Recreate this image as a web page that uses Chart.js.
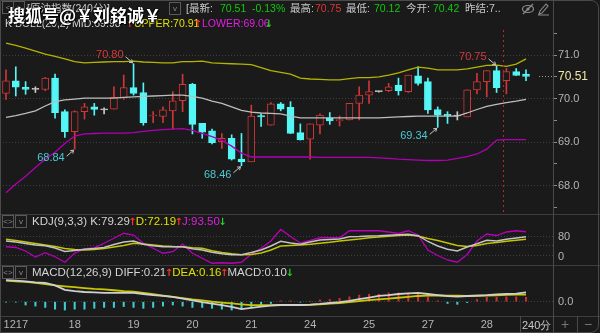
<!DOCTYPE html>
<html>
<head>
<meta charset="utf-8">
<script src="https://cdn.jsdelivr.net/npm/chart.js@4.4.1/dist/chart.umd.min.js"></script>
<style>
  body { margin: 0; background: #1a1a1a; width: 600px; height: 333px; overflow: hidden; position: relative;
         font-family: "Liberation Sans", Arial, sans-serif; }
  canvas { position: absolute; left: 0; }
  .t { position: absolute; white-space: nowrap; font-size: 10.5px; line-height: 14px; color: #d4d4d4; }
  .top { font-family: "Liberation Sans", "Noto Sans CJK SC", sans-serif; font-size: 10.5px; line-height: 14px; top: 1px; }
  .sub { font-size: 11.5px; }
  .g { color: #c8c8c8; } .grn { color: #10c810; } .red { color: #e03434; }
  .yel { color: #e0e000; } .mag { color: #e020e0; } .up { color: #ff3030; } .dn { color: #20d820; }
  .ar { display: inline-block; width: 6px; overflow: visible; font-family: "DejaVu Sans", sans-serif;
        font-size: 10px; text-indent: -1.5px; font-weight: bold; }
  .hl { position: absolute; height: 1px; background: #3e3e3e; left: 0; width: 600px; }
  .vl { position: absolute; width: 1px; background: #4a4a4a; }
  .box { position: absolute; width: 10px; height: 11px; border: 1px solid #5a5a5a; color: #8a8a8a;
         font-size: 8px; line-height: 11px; text-align: center; }
  .wm { position: absolute; left: 8px; top: 5px; font-family: "Noto Sans CJK SC", sans-serif; font-weight: bold;
        font-size: 17px; line-height: 20px; color: #fff; text-shadow: 1px 1px 1px #000, -1px 0 1px #000; white-space: nowrap; }
</style>
</head>
<body>
<canvas id="main" width="600" height="214" style="top:0"></canvas>
<canvas id="kdj" width="600" height="51" style="top:214px"></canvas>
<canvas id="macd" width="600" height="68" style="top:265px"></canvas>

<div class="hl" style="top:214px"></div>
<div class="hl" style="top:265px"></div>
<div class="hl" style="top:316px"></div>
<div class="vl" style="left:553px;top:0;height:333px"></div>
<div class="vl" style="left:520px;top:316px;height:17px"></div>
<div class="vl" style="left:577px;top:316px;height:17px"></div>
<div style="position:absolute;left:0;top:0;width:597px;height:331px;border:1px solid #4a4a4a;border-radius:0 8px 8px 0"></div>

<!-- top bar -->
<div class="box" style="left:2px;top:1px">&lt;</div>
<div class="box" style="left:13px;top:1px">&gt;</div>
<span class="t top g" style="left:27px">[原油指数(240分)]</span>
<div class="box" style="left:169px;top:2px">v</div>
<span class="t top g" style="left:186px">[最新:</span>
<span class="t top grn" style="left:220px">70.51</span>
<span class="t top grn" style="left:252px">-0.13%</span>
<span class="t top g" style="left:290px">最高:</span>
<span class="t top red" style="left:315px">70.75</span>
<span class="t top g" style="left:346px">最低:</span>
<span class="t top grn" style="left:374px">70.12</span>
<span class="t top g" style="left:406px">今开:</span>
<span class="t top grn" style="left:433px">70.42</span>
<span class="t top g" style="left:465px">昨结:7..</span>
<svg style="position:absolute;left:522px;top:2px" width="28" height="14">
  <ellipse cx="6" cy="7" rx="5.5" ry="3.5" fill="none" stroke="#8a8a8a" stroke-width="1.2"/>
  <circle cx="6" cy="7" r="1.6" fill="#8a8a8a"/>
  <line x1="1" y1="12" x2="11" y2="2" stroke="#8a8a8a" stroke-width="1.2"/>
  <path d="M17 12 L18 9 L24 2 L26 4 L20 11 Z M16 13 L27 13" fill="none" stroke="#8a8a8a" stroke-width="1.1"/>
</svg>

<!-- BOLL header -->
<span class="t" style="left:5px;top:16px">K BOLL(20,2) MID:69.98</span>
<span class="t up" style="left:127px;top:16px"><span class="ar">↑</span></span>
<span class="t yel" style="left:134px;top:16px">UPPER:70.91</span>
<span class="t up" style="left:195px;top:16px"><span class="ar">↑</span></span>
<span class="t mag" style="left:202px;top:16px">LOWER:69.06</span>
<span class="t dn" style="left:266px;top:16px"><span class="ar">↓</span></span>

<div class="wm">搜狐号@￥刘铭诚￥</div>

<!-- KDJ header -->
<div class="box" style="left:2px;top:215px">&lt;&gt;</div>
<div class="box" style="left:15px;top:215px">v</div>
<span class="t sub" style="left:32px;top:214px">KDJ(9,3,3) K:79.29<span class="up ar">↑</span><span class="yel">D:72.19</span><span class="up ar">↑</span><span class="mag">J:93.50</span><span class="dn ar">↓</span></span>

<!-- MACD header -->
<div class="box" style="left:2px;top:266px">&lt;&gt;</div>
<div class="box" style="left:15px;top:266px">v</div>
<span class="t sub" style="left:32px;top:265px">MACD(12,26,9) DIFF:0.21<span class="up ar">↑</span><span class="yel">DEA:0.16</span><span class="up ar">↑</span>MACD:0.10<span class="dn ar">↓</span></span>

<!-- bottom buttons -->
<span class="t g" style="left:522px;top:318px;font-size:11px">240分</span>
<span class="t" style="left:561px;top:317px;font-size:14px;color:#777">+</span>
<span class="t" style="left:584px;top:317px;font-size:14px;color:#777">−</span>

<script>
// ---- data (one entry per 240-minute bar) ----
const opens = [70.12, 70.41, 70.26, 70.21, 70.21, 70.47, 69.70, 69.24, 69.70, 69.81,
  69.74, 69.76, 70.02, 70.25, 70.14, 69.60, 69.59, 69.72, 69.95, 70.33,
  69.43, 69.26, 69.01, 69.09, 68.61, 68.55, 69.61, 69.39, 69.88, 69.80,
  69.22, 69.07, 69.39, 69.56, 69.49, 69.51, 69.89, 70.08, 70.16, 70.18,
  70.31, 70.16, 70.52, 70.39, 69.75, 69.64, 69.60, 69.58, 70.20, 70.39,
  70.64, 70.41, 70.62, 70.56];
const highs = [70.66, 70.73, 70.39, 70.27, 70.49, 70.56, 69.74, 69.72, 69.89, 69.89,
  69.79, 70.27, 70.54, 70.80, 70.36, 69.70, 69.81, 70.16, 70.56, 70.35,
  69.43, 69.30, 69.20, 69.17, 69.20, 69.85, 69.65, 69.91, 69.91, 69.93,
  69.42, 69.42, 69.65, 69.68, 69.60, 69.89, 70.27, 70.41, 70.17, 70.35,
  70.47, 70.54, 70.73, 70.47, 69.81, 69.70, 69.70, 70.20, 70.58, 70.64,
  70.75, 70.69, 70.69, 70.66];
const lows = [69.98, 70.06, 70.10, 70.14, 70.18, 69.55, 69.11, 68.84, 69.53, 69.62,
  69.65, 69.76, 69.98, 70.08, 69.39, 69.45, 69.45, 69.30, 69.70, 69.19,
  69.09, 68.96, 68.86, 68.59, 68.46, 68.55, 69.36, 69.39, 69.72, 69.20,
  69.05, 68.61, 69.19, 69.41, 69.37, 69.51, 69.51, 69.89, 70.15, 70.16,
  70.08, 70.14, 70.31, 69.66, 69.34, 69.43, 69.51, 69.58, 70.11, 70.04,
  70.14, 70.11, 70.53, 70.41];
const closes = [70.41, 70.26, 70.21, 70.21, 70.47, 69.68, 69.24, 69.70, 69.81, 69.75,
  69.74, 70.03, 70.25, 70.12, 69.45, 69.62, 69.74, 69.95, 70.33, 69.41,
  69.23, 68.99, 69.09, 68.61, 68.55, 69.60, 69.58, 69.88, 69.76, 69.20,
  69.05, 69.42, 69.62, 69.49, 69.52, 69.89, 70.08, 70.16, 70.16, 70.27,
  70.18, 70.54, 70.35, 69.74, 69.62, 69.60, 69.60, 70.20, 70.39, 70.64,
  70.25, 70.62, 70.53, 70.51];

// BOLL(20,2)
const upper = [71.27, 71.22, 71.16, 71.09, 71.02, 70.97, 70.91, 70.85, 70.82, 70.83,
  70.84, 70.85, 70.85, 70.86, 70.84, 70.83, 70.82, 70.82, 70.85, 70.85,
  70.86, 70.82, 70.81, 70.80, 70.79, 70.78, 70.71, 70.64, 70.60, 70.56,
  70.47, 70.45, 70.44, 70.43, 70.43, 70.46, 70.48, 70.48, 70.50, 70.54,
  70.59, 70.66, 70.72, 70.70, 70.66, 70.66, 70.66, 70.68, 70.72, 70.76,
  70.77, 70.74, 70.79, 70.91];
const mid = [69.57, 69.61, 69.66, 69.72, 69.83, 69.93, 69.97, 69.99, 70.01, 70.01,
  70.01, 70.01, 70.03, 70.04, 70.05, 70.06, 70.07, 70.08, 70.08, 70.05,
  70.01, 69.94, 69.89, 69.81, 69.73, 69.69, 69.67, 69.66, 69.65, 69.60,
  69.56, 69.56, 69.56, 69.56, 69.56, 69.56, 69.56, 69.56, 69.56, 69.57,
  69.58, 69.59, 69.60, 69.60, 69.60, 69.60, 69.60, 69.67, 69.75, 69.82,
  69.87, 69.91, 69.94, 69.98];
const lower = [67.84, 68.04, 68.22, 68.42, 68.61, 68.77, 68.97, 69.14, 69.19, 69.20,
  69.21, 69.21, 69.21, 69.22, 69.25, 69.27, 69.29, 69.30, 69.31, 69.27,
  69.20, 69.13, 69.04, 68.91, 68.75, 68.66, 68.66, 68.66, 68.66, 68.66,
  68.66, 68.66, 68.65, 68.65, 68.65, 68.65, 68.65, 68.65, 68.64, 68.63,
  68.61, 68.60, 68.59, 68.58, 68.58, 68.59, 68.63, 68.67, 68.73, 68.84,
  69.05, 69.06, 69.06, 69.06];

// KDJ(9,3,3)
const kLine = [64, 60, 54, 48, 45, 36, 22, 26, 31, 34, 38, 50, 60, 64, 51, 45, 41, 41, 41, 33,
  28, 19, 13, 9, 9, 18, 28, 44, 63, 56, 51, 60, 68, 70, 72, 81, 82, 84, 85, 87,
  89, 91, 85, 62, 44, 31, 24, 40, 53, 67, 64, 71, 76, 81];
const dLine = [71, 66, 60, 54, 48, 42, 34, 30, 28, 30, 34, 40, 46, 55, 52, 48, 44, 42, 41, 37,
  35, 25, 18, 13, 9, 10, 16, 28, 44, 46, 48, 51, 55, 59, 64, 68, 72, 77, 80, 83,
  86, 88, 84, 74, 66, 56, 46, 42, 46, 54, 58, 63, 67, 71];
const jLine = [41, 38, 24, 0, 17, 1, -21, 15, 32, 37, 55, 75, 95, 88, 55, 35, 15, 21, 52, 15,
  -5, -25, -23, -25, -21, 11, 35, 64, 110, 82, 56, 66, 77, 77, 77, 105, 105, 105, 105, 100,
  94, 105, 88, 28, 6, -12, -21, 10, 64, 92, 86, 100, 105, 101];

// MACD(12,26,9)
const diff = [0.49, 0.48, 0.46, 0.44, 0.43, 0.37, 0.27, 0.24, 0.22, 0.21,
  0.20, 0.20, 0.20, 0.20, 0.175, 0.15, 0.13, 0.11, 0.07, 0.03,
  -0.01, -0.045, -0.08, -0.12, -0.17, -0.14, -0.11, -0.09, -0.075, -0.075,
  -0.075, -0.065, -0.05, -0.03, -0.01, 0.02, 0.06, 0.095, 0.13, 0.15,
  0.175, 0.19, 0.20, 0.175, 0.15, 0.125, 0.115, 0.13, 0.14, 0.15,
  0.165, 0.175, 0.185, 0.21];
const dea = [0.48, 0.46, 0.45, 0.43, 0.40, 0.37, 0.35, 0.33, 0.31, 0.29,
  0.28, 0.26, 0.24, 0.23, 0.20, 0.17, 0.14, 0.11, 0.08, 0.05,
  0.03, 0.00, -0.02, -0.04, -0.06, -0.08, -0.08, -0.08, -0.075, -0.075,
  -0.075, -0.07, -0.06, -0.045, -0.03, -0.01, 0.015, 0.035, 0.055, 0.07,
  0.09, 0.11, 0.13, 0.14, 0.145, 0.14, 0.135, 0.13, 0.135, 0.14,
  0.145, 0.155, 0.16, 0.16];
const macdHist = [-0.01, -0.01, -0.075, -0.10, -0.13, -0.17, -0.19, -0.17, -0.17, -0.15,
  -0.13, -0.13, -0.11, -0.13, -0.15, -0.13, -0.10, -0.075, -0.10, -0.13,
  -0.13, -0.15, -0.17, -0.19, -0.17, -0.13, -0.075, -0.04, 0.02, 0.02,
  -0.01, 0.01, 0.04, 0.05, 0.075, 0.11, 0.15, 0.17, 0.17, 0.20,
  0.20, 0.20, 0.20, 0.11, 0.02, -0.04, -0.06, -0.02, 0.05, 0.10,
  0.10, 0.11, 0.11, 0.10];

// axis labels
const dateLabels = ['1217', '18', '19', '20', '21', '24', '25', '27', '28'];
const dateIdx = [1, 7, 13, 19, 25, 31, 37, 43, 49];
const priceTicks = [67.5, 68, 68.5, 69, 69.5, 70, 70.5, 71, 71.5];
const kdjTicks = [0, 8, 46, 80];
const kdjLabeled = [0, 80];
const macdTicks = [0];

// marked highs / lows (bar index)
const marks = [{ i: 13, high: true }, { i: 7, high: false }, { i: 24, high: false },
  { i: 44, high: false }, { i: 50, high: true }];
const cursorAt = 50.7;

// ---- setup ----
Chart.defaults.font.family = '"Liberation Sans", Arial, sans-serif';
const BG = '#1a1a1a';
const GRID = '#404040';
const xMin = -0.61, xMax = 55.75;
const lastClose = closes[closes.length - 1];

const pts = arr => arr.map((v, i) => ({ x: i, y: v }));
const candleColor = closes.map((c, i) => c > opens[i] ? '#d03636' : (c < opens[i] ? '#54f6f6' : '#c8c8c8'));
const bodyFill = closes.map((c, i) => c > opens[i] ? BG : candleColor[i]);

function hiddenX() {
  return { type: 'linear', min: xMin, max: xMax, offset: false, display: false, grid: { display: false } };
}

function rightY(min, max, ticks, label, gridOn, tickColor) {
  return {
    position: 'right', min: min, max: max,
    afterBuildTicks: s => { s.ticks = ticks.map(v => ({ value: v })); },
    afterFit: s => { s.width = 47; s.paddingTop = 0; s.paddingBottom = 0; },
    border: { display: false, dash: [1, 2] },
    grid: {
      color: c => gridOn(c.tick.value) ? GRID : 'rgba(0,0,0,0)',
      tickColor: tickColor, tickLength: 4, lineWidth: 1
    },
    ticks: {
      autoSkip: false, padding: 1, color: '#b4b4b4', font: { size: 11 },
      callback: v => label(v)
    }
  };
}

const common = {
  responsive: false, animation: false, events: [],
  plugins: { legend: { display: false }, tooltip: { enabled: false } }
};

const mainDeco = {
  id: 'mainDeco',
  afterDatasetsDraw(chart) {
    const { ctx, chartArea: a, scales: { x, y } } = chart;
    ctx.save();
    // red dashed cursor
    const cx = Math.round(x.getPixelForValue(cursorAt)) + 0.5;
    ctx.strokeStyle = '#b42a2a'; ctx.lineWidth = 1; ctx.setLineDash([2, 3]);
    ctx.beginPath(); ctx.moveTo(cx, a.top + 10); ctx.lineTo(cx, a.bottom); ctx.stroke();
    // dotted line to last price
    const ly = Math.round(y.getPixelForValue(lastClose)) + 0.5;
    ctx.strokeStyle = '#9a9a9a'; ctx.setLineDash([1, 2]);
    ctx.beginPath(); ctx.moveTo(a.right - 14, ly); ctx.lineTo(a.right - 1, ly); ctx.stroke();
    ctx.setLineDash([]);
    // high / low marks
    ctx.font = '11px "Liberation Sans", Arial';
    ctx.textAlign = 'right'; ctx.textBaseline = 'middle';
    marks.forEach(m => {
      const v = m.high ? highs[m.i] : lows[m.i];
      const px = x.getPixelForValue(m.i), py = y.getPixelForValue(v);
      const d = m.high ? -1 : 1;
      ctx.fillStyle = m.high ? '#d83a3a' : '#4cc8d2';
      ctx.fillText(v.toFixed(2), px - 10, py + d * 9);
      const sx = px - 8, sy = py + d * 7, ex = px - 1, ey = py + d;
      ctx.strokeStyle = '#c8c8c8'; ctx.lineWidth = 1;
      ctx.beginPath(); ctx.moveTo(sx, sy); ctx.lineTo(ex, ey); ctx.stroke();
      const ang = Math.atan2(ey - sy, ex - sx);
      ctx.beginPath();
      ctx.moveTo(ex - 3.5 * Math.cos(ang - 0.6), ey - 3.5 * Math.sin(ang - 0.6));
      ctx.lineTo(ex, ey);
      ctx.lineTo(ex - 3.5 * Math.cos(ang + 0.6), ey - 3.5 * Math.sin(ang + 0.6));
      ctx.stroke();
    });
    ctx.restore();
  }
};

// ---- main: candles + BOLL ----
new Chart(document.getElementById('main'), {
  type: 'bar',
  data: {
    datasets: [
      { type: 'line', data: pts(upper), borderColor: '#b4b400', borderWidth: 1.3, pointRadius: 0, tension: 0, order: 0 },
      { type: 'line', data: pts(mid), borderColor: '#bdbdbd', borderWidth: 1.3, pointRadius: 0, tension: 0, order: 0 },
      { type: 'line', data: pts(lower), borderColor: '#b000b4', borderWidth: 1.3, pointRadius: 0, tension: 0, order: 0 },
      { data: opens.map((o, i) => ({ x: i, y: [o, closes[i]] })), backgroundColor: bodyFill, borderColor: candleColor,
        borderWidth: 1, borderSkipped: false, barThickness: 7, minBarLength: 1, grouped: false, order: 1 },
      { data: lows.map((l, i) => ({ x: i, y: [l, highs[i]] })), backgroundColor: candleColor,
        borderWidth: 0, barThickness: 1, grouped: false, order: 2 }
    ]
  },
  options: Object.assign({}, common, {
    layout: { padding: { top: 20, left: 0, right: 0, bottom: 0 } },
    scales: {
      x: hiddenX(),
      y: (() => {
        const ax = rightY(67.353, 71.803, priceTicks.concat([lastClose]),
          v => v === lastClose ? v.toFixed(2) : (Number.isInteger(v) ? v.toFixed(1) : ''),
          v => Number.isInteger(v), '#8a8a8a');
        ax.ticks.color = c => c.tick.value === lastClose ? '#efe8a8' : '#b4b4b4';
        ax.ticks.font = c => ({ size: c.tick && c.tick.value === lastClose ? 12 : 11 });
        return ax;
      })()
    }
  }),
  plugins: [mainDeco]
});

// ---- KDJ ----
new Chart(document.getElementById('kdj'), {
  type: 'line',
  data: {
    datasets: [
      { data: pts(kLine), borderColor: '#c4c4c4', borderWidth: 1.4, pointRadius: 0, tension: 0 },
      { data: pts(dLine), borderColor: '#c4c400', borderWidth: 1.4, pointRadius: 0, tension: 0 },
      { data: pts(jLine), borderColor: '#b800b8', borderWidth: 1.3, pointRadius: 0, tension: 0 }
    ]
  },
  options: Object.assign({}, common, {
    scales: {
      x: hiddenX(),
      y: rightY(-32, 172, kdjTicks, v => kdjLabeled.includes(v) ? String(v) : '', v => v !== 0, 'rgba(0,0,0,0)')
    }
  })
});

// ---- MACD ----
new Chart(document.getElementById('macd'), {
  type: 'bar',
  data: {
    datasets: [
      { type: 'line', data: pts(diff), borderColor: '#cfcfcf', borderWidth: 1.8, pointRadius: 0, tension: 0, order: 0 },
      { type: 'line', data: pts(dea), borderColor: '#c8c800', borderWidth: 1.8, pointRadius: 0, tension: 0, order: 0 },
      { data: pts(macdHist), backgroundColor: macdHist.map(v => v >= 0 ? '#c83030' : '#40ccd4'),
        barThickness: 1.4, grouped: false, order: 1 }
    ]
  },
  options: Object.assign({}, common, {
    scales: {
      x: {
        type: 'linear', min: xMin, max: xMax, offset: false, position: 'bottom',
        grid: { display: false, drawTicks: false }, border: { display: false },
        afterBuildTicks: s => { s.ticks = dateIdx.map(v => ({ value: v })); },
        afterFit: s => { s.height = 17; s.paddingLeft = 0; s.paddingRight = 0; },
        ticks: { autoSkip: false, maxRotation: 0, padding: 2, color: '#b4b4b4', font: { size: 11 },
          callback: v => dateLabels[dateIdx.indexOf(v)] }
      },
      y: rightY(-0.325, 0.834, macdTicks, v => v.toFixed(1), v => true, 'rgba(0,0,0,0)')
    }
  })
});
</script>
</body>
</html>
